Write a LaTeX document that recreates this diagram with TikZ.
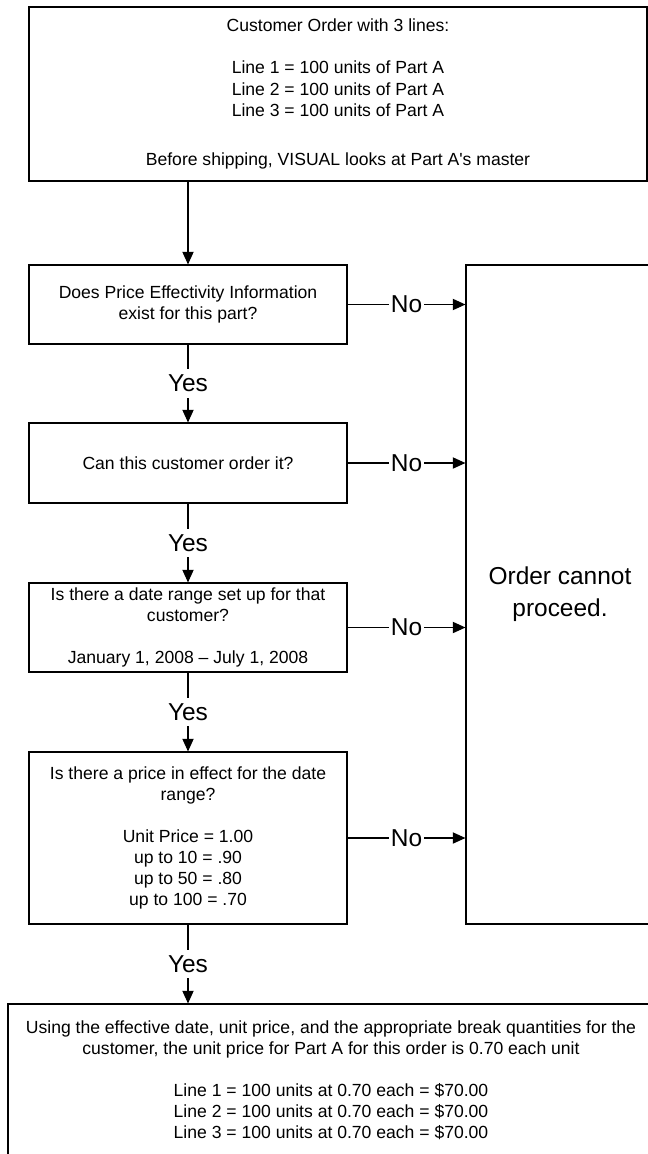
\documentclass[tikz,border=0pt]{standalone}
\usepackage{fontspec}
\setmainfont{Liberation Sans}[Ligatures=TeXOff]
\usetikzlibrary{arrows.meta}

\begin{document}
\begin{tikzpicture}[
  qbox/.style={draw, line width=0.8pt, minimum width=7.95cm, align=center, font=\fontsize{12.5}{15}\selectfont, inner sep=0pt},
  lbl/.style={fill=white, font=\fontsize{17.4}{22.8}\selectfont, inner xsep=1.5pt, inner ysep=4pt},
  arr/.style={line width=0.8pt, -{Triangle[length=9pt,width=8pt]}}
]
  \useasboundingbox (0,0) rectangle (16.2,-28.85);
  \clip (0,0) rectangle (16.2,-28.85);

  % The order and what VISUAL checks
  \node[qbox, minimum width=15.45cm, minimum height=4.35cm] (order) at (8.45,-2.35) {Customer Order with 3 lines:\\[15pt]
    Line 1 = 100 units of Part A\\
    Line 2 = 100 units of Part A\\
    Line 3 = 100 units of Part A\\[20pt]
    Before shipping, VISUAL looks at Part A's master};

  % Questions
  \node[qbox, minimum height=1.975cm] (q1) at (4.7,-7.6125) {Does Price Effectivity Information\\exist for this part?};
  \node[qbox, minimum height=2.0cm] (q2) at (4.7,-11.575) {Can this customer order it?};
  \node[qbox, minimum height=2.225cm] (q3) at (4.7,-15.6875) {Is there a date range set up for that\\customer?\\[15pt]January 1, 2008 – July 1, 2008};
  \node[qbox, minimum height=4.3cm] (q4) at (4.7,-20.95) {Is there a price in effect for the date\\range?\\[15pt]
    Unit Price = 1.00\\
    up to 10 = .90\\
    up to 50 = .80\\
    up to 100 = .70};

  % Outcomes
  \node[qbox, minimum width=4.7cm, minimum height=16.475cm, font=\fontsize{17.4}{22.8}\selectfont] (stop) at (14.0,-14.8625) {Order cannot\\proceed.};
  \node[qbox, minimum width=16.15cm, minimum height=3.8cm] (result) at (8.275,-27.0) {Using the effective date, unit price, and the appropriate break quantities for the\\
    customer, the unit price for Part A for this order is 0.70 each unit\\[15pt]
    Line 1 = 100 units at 0.70 each = \$70.00\\
    Line 2 = 100 units at 0.70 each = \$70.00\\
    Line 3 = 100 units at 0.70 each = \$70.00};

  % Connectors
  \draw[arr] (q1.north |- order.south) -- (q1.north);
  \draw[arr] (q1) -- node[lbl] {Yes} (q2);
  \draw[arr] (q2) -- node[lbl] {Yes} (q3);
  \draw[arr] (q3) -- node[lbl] {Yes} (q4);
  \draw[arr] (q4.south) -- node[lbl] {Yes} (q4.south |- result.north);
  \draw[arr] (q1) -- node[lbl] {No} (q1 -| stop.west);
  \draw[arr] (q2) -- node[lbl] {No} (q2 -| stop.west);
  \draw[arr] (q3) -- node[lbl] {No} (q3 -| stop.west);
  \draw[arr] (q4) -- node[lbl] {No} (q4 -| stop.west);
\end{tikzpicture}
\end{document}
